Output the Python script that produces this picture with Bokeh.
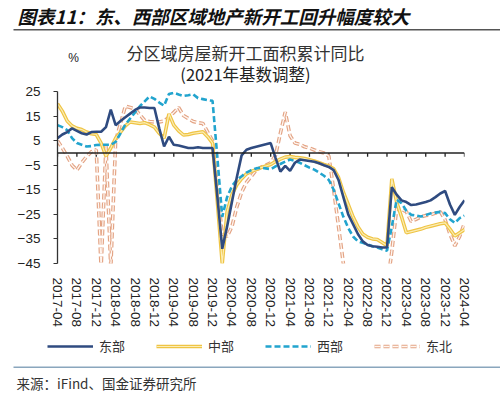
import numpy as np
import pandas as pd
from bokeh.plotting import figure
from bokeh.models import FixedTicker, Span, Label, Legend, LegendItem, Range1d, ColumnDataSource
from bokeh.layouts import column
from bokeh.embed import file_html
from bokeh.resources import INLINE

# ---------------- data ----------------
months = [p.strftime("%Y-%m") for p in pd.period_range("2017-04", "2024-04", freq="M")]
tick_labels = ["2017-04", "2017-08", "2017-12", "2018-04", "2018-08", "2018-12", "2019-04",
               "2019-08", "2019-12", "2020-04", "2020-08", "2020-12", "2021-04", "2021-08",
               "2021-12", "2022-04", "2022-08", "2022-12", "2023-04", "2023-08", "2023-12",
               "2024-04"]
y_ticks = [25, 15, 5, -5, -15, -25, -35, -45]

east = [6, 7.5, 8.5, 10, 9, 8, 7.5, 8.5, 8.6,
        8.6, 10.5, 17.6, 11.3, 13, 14.5, 16, 17.5, 18.5, 18.5, 18.3, 18.3,
        10, 2.6, 6.6, 3.3, 3, 2.5, 2, 2, 2.3, 2, 2, 2,
        -18, -39, -30, -20, -10, -1, 1.3, 2, 2.5, 3, 3.5, 4,
        -2, -7.6, -5.3, -7.3, -4, -2.7, -3, -3.3, -3.6, -4.2, -5, -5.7,
        -7, -11, -18, -25, -29, -33, -36, -37.5, -38, -38.2, -38.5, -38.5,
        -13.9, -17, -19.3, -20, -21.2, -21, -20.5, -20, -19.3, -18, -16.5, -15.5,
        -21, -25.2, -22, -19.3]

central = [20, 17, 13, 11, 10, 9.5, 8.5, 7.8, 7.5,
           4, -1.3, 2, 6, 8.5, 11, 12.6, 12.3, 12, 12.3, 11.5, 10.5,
           8, 6, 15.9, 11.3, 9, 7.3, 7.5, 8, 8.3, 8.6, 6.6, 4,
           -20, -45, -24, -17, -13, -10.5, -8.5, -7.5, -6.8, -6, -5.3, -4.7,
           -3.5, -2.5, -1.7, -1.5, -1.8, -2, -2.3, -2.8, -3.3, -4, -4.7, -5.3,
           -6.5, -10, -16, -21, -26, -30, -33, -34.3, -35, -35.2, -36.5, -37.8,
           -10.6, -20, -26, -32.5, -32, -31.5, -31, -30.3, -29.8, -29.3, -28.8, -28.5,
           -31, -33.8, -32.5, -31.2]

west = [11.3, 10.5, 9.3, 6, 4, 3.3, 2.6, 2.8, 3.2,
        3.3, 3.3, 3.3, 4.5, 8, 11.5, 14, 16.5, 19, 21, 23, 22,
        20.5, 19.2, 24, 24.5, 23.8, 23.2, 23.5, 23.9, 22.3, 21.9, 21.5, 21.2,
        -2, -26, -18, -13.5, -11, -9.5, -8, -7, -6.3, -6, -6.3, -6.6,
        -5.5, -4.5, -3.5, -2.7, -3.3, -4, -5, -6, -6.8, -8, -9.3, -11,
        -15, -20.5, -26, -30.5, -34, -36, -36.6, -37.3, -38, -38.5, -39.2, -39.8,
        -30, -19, -20.5, -23.5, -25.2, -25.5, -25.9, -25.3, -24.6, -24.3, -24, -24.5,
        -27, -28.5, -26.5, -25.5]

northeast = [5, 2, -1.3, -5, -7, -4, -1.5, 0.5, 1.3,
             -47, 3, -47, 5, 12, 19, 18.5, 17.9, 15.5, 13.2, 12.8, 12.6,
             12.6, 13, 14.5, 16.5, 18.5, 15.2, 14, 12.8, 12.3, 12, 8.5, 5,
             -15, -33, -34, -30, -22, -16, -12, -9.5, -7, -5.8, -5, -4,
             -1, 8, 16.6, 7, 4, 3.5, 2.5, 2, 1.2, 0.5, 0, -1.3,
             -15, -30, -45, -55, -55, -55, -55, -55, -55, -55, -55, -55,
             -40, -22.6, -23, -23.9, -27.9, -27, -26, -25.5, -25.2, -24.5, -23.9, -27.2,
             -33, -37.8, -34, -28.5]

CJK = "Noto Sans CJK SC"
LAT = "Liberation Sans"

STY = dict(
    east=dict(line_color="#2F4B80", line_width=2.6),
    c_o=dict(line_color="#EFC444", line_width=3.6),
    c_i=dict(line_color="#FBEDB5", line_width=1.2),
    west=dict(line_color="#22A4CE", line_width=2.6, line_dash="6 3"),
    ne_o=dict(line_color="#E3A384", line_width=3.6, line_dash="6 3"),
    ne_i=dict(line_color="#FFF6F0", line_width=1.3, line_dash="6 3"),
)
COLS = dict(east="east", c_o="central", c_i="central", west="west", ne_o="northeast", ne_i="northeast")


def no_align(fig):
    try:
        fig.frame_align = False
    except Exception:
        pass


def bare(fig):
    fig.axis.visible = False
    fig.grid.visible = False
    fig.outline_line_color = None
    fig.title.visible = False
    no_align(fig)


x = list(range(len(months)))
src = ColumnDataSource(dict(x=x, month=months, east=east, central=central,
                            west=west, northeast=northeast))
tick_pos = [months.index(t) for t in tick_labels]

# ---------------- header (page y 0..84) ----------------
hdr = figure(width=500, height=84, x_range=Range1d(0, 500), y_range=Range1d(84, 0),
             output_backend="svg", toolbar_location=None, min_border=0)
bare(hdr)
hdr.add_layout(Label(x=17, y=15, text="图表11：东、西部区域地产新开工回升幅度较大",
                     text_font=CJK, text_font_style="bold italic", text_font_size="18.5px",
                     text_baseline="middle", text_align="left", text_color="#111111"))
hdr.segment(x0=[13], y0=[29.3], x1=[500], y1=[29.3], line_color="#555555", line_width=1.5)
hdr.add_layout(Label(x=245, y=52, text="分区域房屋新开工面积累计同比", text_font=CJK,
                     text_font_size="17px", text_align="center", text_baseline="middle",
                     text_color="#333333"))
hdr.add_layout(Label(x=245, y=73, text="(2021年基数调整)", text_font=CJK,
                     text_font_size="16.5px", text_align="center", text_baseline="middle",
                     text_color="#222222"))
hdr.add_layout(Label(x=73, y=57, text="%", text_font=LAT, text_font_size="12px",
                     text_align="center", text_baseline="middle", text_color="#222222"))

# ---------------- main plot (page y 84..330) ----------------
p = figure(width=500, height=246, x_range=Range1d(0, len(months) - 1), y_range=Range1d(-45, 25),
           output_backend="svg", toolbar_location=None,
           min_border_left=57, min_border_right=36, min_border_top=7, min_border_bottom=63)
p.title.visible = False
no_align(p)
p.xgrid.visible = False
p.ygrid.visible = False
p.outline_line_color = None

p.xaxis.ticker = FixedTicker(ticks=tick_pos)
p.xaxis.major_label_overrides = {i: t for i, t in zip(tick_pos, tick_labels)}
p.xaxis.major_label_orientation = "vertical"
p.xaxis.axis_line_color = None
p.xaxis.major_tick_line_color = None
p.xaxis.minor_tick_line_color = None
p.xaxis.major_label_standoff = 8
p.xaxis.major_label_text_font = LAT
p.xaxis.major_label_text_font_size = "13.5px"
p.xaxis.major_label_text_color = "#222222"

p.yaxis.ticker = FixedTicker(ticks=y_ticks)
p.yaxis.axis_line_color = "#333333"
p.yaxis.axis_line_width = 1.3
p.yaxis.major_tick_line_color = "#333333"
p.yaxis.major_tick_out = 4
p.yaxis.major_tick_in = 0
p.yaxis.minor_tick_line_color = None
p.yaxis.major_label_standoff = 13
p.yaxis.major_label_text_font = LAT
p.yaxis.major_label_text_font_size = "13.5px"
p.yaxis.major_label_text_color = "#222222"

p.add_layout(Span(location=0, dimension="width", line_color="#222222", line_width=1.5))
p.segment(x0=tick_pos, y0=[0] * len(tick_pos), x1=tick_pos, y1=[-1.6] * len(tick_pos),
          line_color="#222222", line_width=1.3)

for k in ["ne_o", "ne_i", "c_o", "c_i", "west", "east"]:
    p.line("x", COLS[k], source=src, **STY[k])

# ---------------- footer with legend (page y 330..396) ----------------
ftr = figure(width=500, height=66, x_range=Range1d(0, 500), y_range=Range1d(66, 0),
             output_backend="svg", toolbar_location=None, min_border=0)
bare(ftr)
# legend keys: same series, mapped onto a range that lies outside this strip
ftr.extra_y_ranges = {"off": Range1d(1000, 2000)}
lg = {k: ftr.line("x", COLS[k], source=src, y_range_name="off", **v) for k, v in STY.items()}
legend = Legend(items=[LegendItem(label="东部", renderers=[lg["east"]]),
                       LegendItem(label="中部", renderers=[lg["c_o"], lg["c_i"]]),
                       LegendItem(label="西部", renderers=[lg["west"]]),
                       LegendItem(label="东北", renderers=[lg["ne_o"], lg["ne_i"]])],
                orientation="horizontal", location=(47, 41),
                border_line_color=None, background_fill_alpha=0,
                label_text_font=CJK, label_text_font_size="13px", label_text_color="#333333",
                glyph_width=46, glyph_height=12, spacing=31, label_standoff=6,
                padding=0, margin=0)
ftr.add_layout(legend)
ftr.segment(x0=[13], y0=[36.7], x1=[500], y1=[36.7], line_color="#8AA6BD", line_width=1.5)
ftr.add_layout(Label(x=16, y=52, text="来源：iFind、国金证券研究所", text_font=CJK,
                     text_font_size="13.5px", text_align="left", text_baseline="middle",
                     text_color="#333333"))

layout = column(hdr, p, ftr, spacing=0)
open("out.html", "w").write(file_html(layout, INLINE))
